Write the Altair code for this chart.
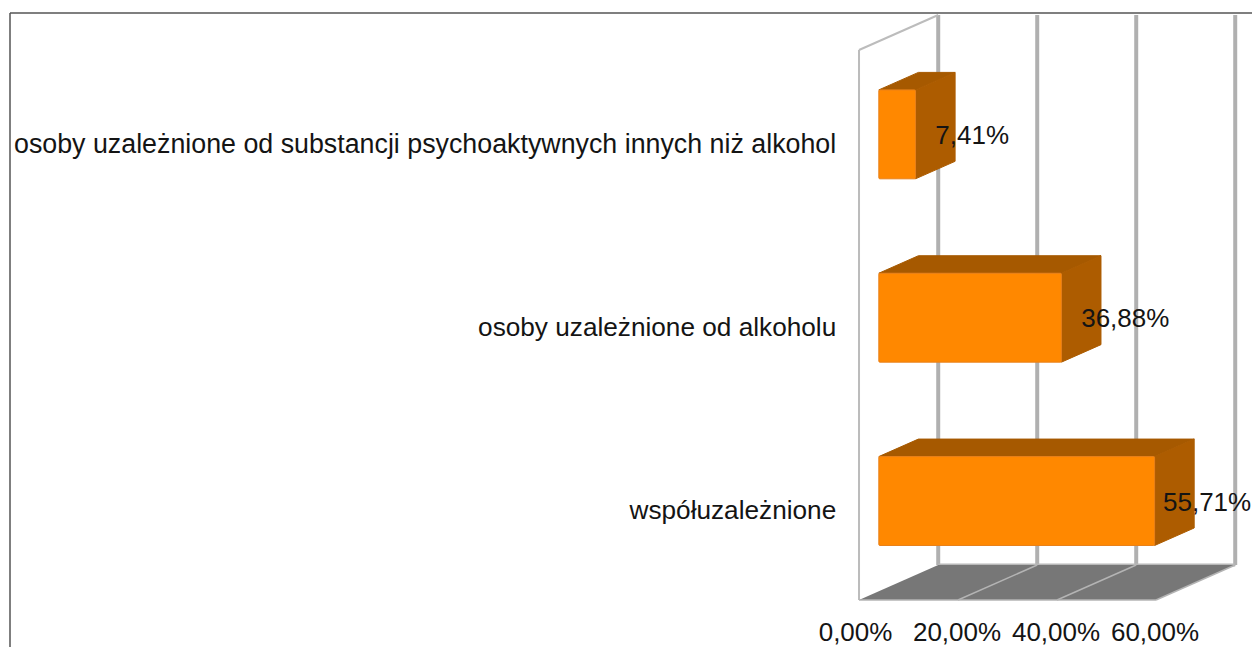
import altair as alt
import pandas as pd

categories = ["współuzależnione", "osoby uzależnione od alkoholu",
              "osoby uzależnione od substancji psychoaktywnych innych niż alkohol"]
label_sizes = [26.2, 26.2, 26.8]
values = [55.71, 36.88, 7.41]
value_labels = ["55,71%", "36,88%", "7,41%"]
ticks = [0, 20, 40, 60]
tick_labels = ["0,00%", "20,00%", "40,00%", "60,00%"]
SLOTS = 3

W, H = 1244, 639
# oblique projection: a unit of depth moves a point this far in value / slot units
DX, DY = 16.0, 0.191
BAR_D0, BAR_D1 = 0.25, 0.75
BAR_H = 0.485
BAR_SHIFT = -0.008
X_DOMAIN = [-171.92, 79.39]
Y_DOMAIN = [-0.2564, 3.229]

FONT = "Liberation Sans"
TEXT = "#141414"
x_s = alt.Scale(domain=X_DOMAIN, range=[0, W], nice=False, zero=False)
y_s = alt.Scale(domain=Y_DOMAIN, range=[H, 0], nice=False, zero=False)


def px(v, d):
    return v + DX * d


def py(s, d):
    return s + DY * d


X = lambda f: alt.X(f, type="quantitative", scale=x_s, axis=None)
Y = lambda f: alt.Y(f, type="quantitative", scale=y_s, axis=None)


def seg(rows, color, width):
    df = pd.DataFrame(rows, columns=["x", "y", "x2", "y2"])
    return alt.Chart(df).mark_rule(color=color, strokeWidth=width).encode(
        X("x"), Y("y"), x2="x2", y2="y2")


# floor
floor = alt.Chart(pd.DataFrame({
    "y": [py(0, 0), py(0, 1)],
    "x": [px(0, 0), px(0, 1)],
    "x2": [px(ticks[-1], 0), px(ticks[-1], 1)],
})).mark_area(orient="horizontal", color="#777777").encode(X("x"), Y("y"), x2="x2")

GRID = "#b0b0b0"
back = seg([[px(t, 1), py(0, 1), px(t, 1), py(SLOTS, 1)] for t in ticks], GRID, 4)
back_base = seg([[px(ticks[0], 1), py(0, 1), px(ticks[-1], 1), py(0, 1)]], "#b8b8b8", 3)
side = seg([[px(0, 0), py(0, 0), px(0, 0), py(SLOTS, 0)],
            [px(0, 0), py(SLOTS, 0), px(0, 1), py(SLOTS, 1)]], "#bcbcbc", 2)
floor_lines = seg([[px(t, 0), py(0, 0), px(t, 1), py(0, 1)] for t in ticks[1:]]
                  + [[px(ticks[0], 0), py(0, 0), px(ticks[-1], 0), py(0, 0)]],
                  "#b4b4b4", 1.5)

# bars
front_rows, top_rows, side_rows = [], [], []
for i, v in enumerate(values):
    c = i + 0.5 + BAR_SHIFT
    lo, hi = c - BAR_H / 2, c + BAR_H / 2
    front_rows.append({"x": px(0, BAR_D0), "x2": px(v, BAR_D0),
                       "y": py(lo, BAR_D0), "y2": py(hi, BAR_D0)})
    for d in (BAR_D0, BAR_D1):
        top_rows.append({"b": i, "y": py(hi, d), "x": px(0, d), "x2": px(v, d)})
        side_rows.append({"b": i, "x": px(v, d), "y": py(lo, d), "y2": py(hi, d)})

ORANGE, DARK_TOP, DARK_SIDE = "#ff8800", "#a65900", "#ad5c00"
tops = alt.Chart(pd.DataFrame(top_rows)).mark_area(
    orient="horizontal", color=DARK_TOP, stroke=DARK_TOP, strokeWidth=1, strokeJoin="round"
).encode(X("x"), Y("y"), x2="x2", detail="b:N")
sides = alt.Chart(pd.DataFrame(side_rows)).mark_area(
    orient="vertical", color=DARK_SIDE, stroke=DARK_SIDE, strokeWidth=1, strokeJoin="round"
).encode(X("x"), Y("y"), y2="y2", detail="b:N")
fronts = alt.Chart(pd.DataFrame(front_rows)).mark_rect(
    color=ORANGE, stroke="#e8801a", strokeWidth=1, cornerRadius=1
).encode(X("x"), Y("y"), x2="x2", y2="y2")

# texts
cat_df = pd.DataFrame({"t": categories, "x": [-4.6] * 3, "s": label_sizes,
                       "y": [i + 0.5 for i in range(3)]})
cat_text = alt.Chart(cat_df).mark_text(
    font=FONT, align="right", baseline="middle", color=TEXT, dy=3
).encode(X("x"), Y("y"), text="t:N", size=alt.Size("s:Q", scale=None, legend=None))

# the widest value label is pulled back a little so that it stays whole inside the canvas
value_label_shift = [-2.3, 0, 0]
val_df = pd.DataFrame({"t": value_labels,
                       "x": [px(v, 0.5) + s for v, s in zip(values, value_label_shift)],
                       "y": [py(i + 0.5, BAR_D0) for i in range(3)]})
val_text = alt.Chart(val_df).mark_text(
    font=FONT, fontSize=26, align="left", baseline="middle", color=TEXT, dy=3
).encode(X("x"), Y("y"), text="t:N")

tick_shift = [-0.7, -0.2, -0.2, -0.2]
tick_df = pd.DataFrame({"t": tick_labels,
                        "x": [t + s for t, s in zip(ticks, tick_shift)],
                        "y": [-0.18] * len(ticks)})
tick_text = alt.Chart(tick_df).mark_text(
    font=FONT, fontSize=26, align="center", baseline="middle", color=TEXT
).encode(X("x"), Y("y"), text="t:N")

# outer frame of the picture
frame_top = alt.Chart(pd.DataFrame({"a": [0]})).mark_rule(color="#555555", strokeWidth=1.5).encode(
    x=alt.value(2), x2=alt.value(W), y=alt.value(5))
frame_left = alt.Chart(pd.DataFrame({"a": [0]})).mark_rule(color="#555555", strokeWidth=1.5).encode(
    x=alt.value(2), y=alt.value(5), y2=alt.value(H))

chart = alt.layer(
    frame_top, frame_left, back, back_base, floor, side, floor_lines,
    tops, sides, fronts, cat_text, val_text, tick_text
).properties(width=W, height=H, padding=0, autosize=alt.AutoSizeParams(type="none")
).configure_view(stroke=None)

chart.save("out.html", embed_options={"renderer": "svg", "actions": False})
